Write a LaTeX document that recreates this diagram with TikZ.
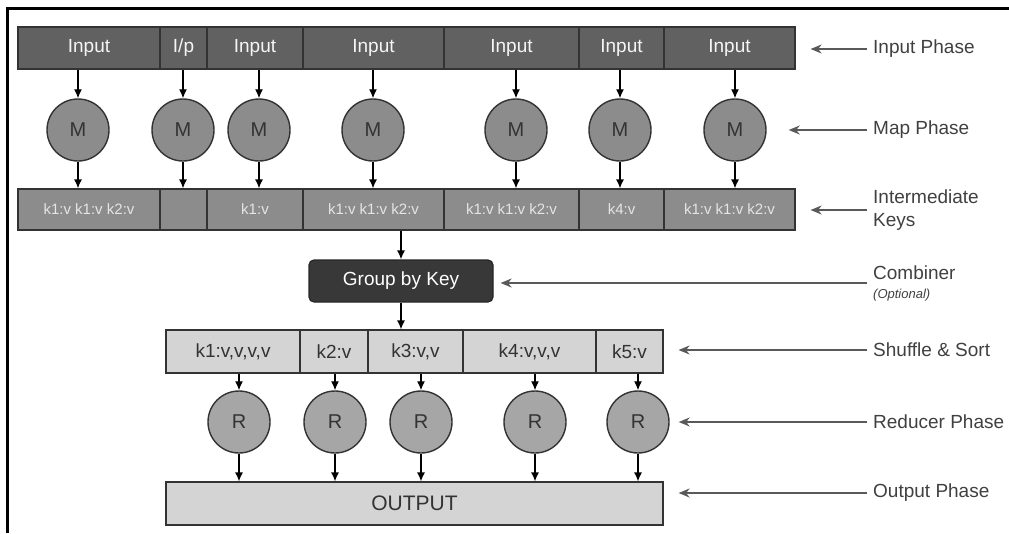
\documentclass[tikz,border=0pt]{standalone}
\usepackage{fontspec}
\setmainfont{Liberation Sans}
\usetikzlibrary{arrows.meta}
\begin{document}
\begin{tikzpicture}[x=1pt, y=-1pt,
  inbox/.style={draw=black!80, line width=1.2pt, fill=black!62, text=black!4,
    minimum height=42pt, inner sep=0pt, font=\fontsize{19}{19}\selectfont},
  keybox/.style={draw=black!80, line width=1.2pt, fill=black!45, text=black!10,
    minimum height=41pt, inner sep=0pt, font=\fontsize{15}{15}\selectfont},
  sortbox/.style={draw=black!80, line width=1.2pt, fill=black!17, text=black!80,
    minimum height=43pt, inner sep=0pt, font=\fontsize{19}{19}\selectfont},
  mapper/.style={circle, draw=black!80, line width=1.4pt, fill=black!45, text=black!80,
    minimum size=62pt, inner sep=0pt, font=\fontsize{20}{20}\selectfont},
  reducer/.style={mapper, fill=black!35},
  arr/.style={draw, -{Latex[length=9pt,width=8pt]}, line width=1.3pt},
  phasearr/.style={draw=black!65, -{Stealth[length=11pt,width=9pt]}, line width=1.7pt, shorten <=3pt},
  phase/.style={anchor=west, inner sep=3pt, text=black!75, align=left,
    font=\fontsize{19}{23}\selectfont}]
  \useasboundingbox (0,0) rectangle (1009,533);
  \draw[line width=3pt] (7,533) -- (7,8) -- (1009,8);

  % input phase
  \node[inbox, minimum width=142pt] (in1) at (89,48) {Input};
  \node[inbox, minimum width=47pt] (in2) at (183.5,48) {I/p};
  \node[inbox, minimum width=96pt] (in3) at (255,48) {Input};
  \node[inbox, minimum width=141pt] (in4) at (373.5,48) {Input};
  \node[inbox, minimum width=135pt] (in5) at (511.5,48) {Input};
  \node[inbox, minimum width=85pt] (in6) at (621.5,48) {Input};
  \node[inbox, minimum width=131pt] (in7) at (729.5,48) {Input};

  % map phase
  \node[mapper] (map1) at (78,130) {M};
  \node[mapper] (map2) at (183,130) {M};
  \node[mapper] (map3) at (259,130) {M};
  \node[mapper] (map4) at (373,130) {M};
  \node[mapper] (map5) at (516,130) {M};
  \node[mapper] (map6) at (620,130) {M};
  \node[mapper] (map7) at (735,130) {M};

  % intermediate keys
  \node[keybox, minimum width=142pt] (key1) at (89,209.5) {k1:v k1:v k2:v};
  \node[keybox, minimum width=47pt] (key2) at (183.5,209.5) {};
  \node[keybox, minimum width=96pt] (key3) at (255,209.5) {k1:v};
  \node[keybox, minimum width=141pt] (key4) at (373.5,209.5) {k1:v k1:v k2:v};
  \node[keybox, minimum width=135pt] (key5) at (511.5,209.5) {k1:v k1:v k2:v};
  \node[keybox, minimum width=85pt] (key6) at (621.5,209.5) {k4:v};
  \node[keybox, minimum width=131pt] (key7) at (729.5,209.5) {k1:v k1:v k2:v};

  \draw[arr] (map1 |- in1.south) -- (map1.north);
  \draw[arr] (map2 |- in2.south) -- (map2.north);
  \draw[arr] (map3 |- in3.south) -- (map3.north);
  \draw[arr] (map4 |- in4.south) -- (map4.north);
  \draw[arr] (map5 |- in5.south) -- (map5.north);
  \draw[arr] (map6 |- in6.south) -- (map6.north);
  \draw[arr] (map7 |- in7.south) -- (map7.north);
  \draw[arr] (map1.south) -- (map1 |- key1.north);
  \draw[arr] (map2.south) -- (map2 |- key2.north);
  \draw[arr] (map3.south) -- (map3 |- key3.north);
  \draw[arr] (map4.south) -- (map4 |- key4.north);
  \draw[arr] (map5.south) -- (map5 |- key5.north);
  \draw[arr] (map6.south) -- (map6 |- key6.north);
  \draw[arr] (map7.south) -- (map7 |- key7.north);

  % combiner
  \node[draw=black!85, line width=1.2pt, fill=black!78, text=white, rounded corners=5pt,
    minimum width=184pt, minimum height=42pt, inner sep=0pt,
    font=\fontsize{19}{19}\selectfont] (grp) at (401,281) {Group by Key};
  \draw[arr] (grp |- key4.south) -- (grp.north);

  % shuffle and sort
  \node[sortbox, minimum width=134pt] (srt1) at (233,351.5) {k1:v,v,v,v};
  \node[sortbox, minimum width=68pt] (srt2) at (334,351.5) {k2:v};
  \node[sortbox, minimum width=95pt] (srt3) at (415.5,351.5) {k3:v,v};
  \node[sortbox, minimum width=133pt] (srt4) at (529.5,351.5) {k4:v,v,v};
  \node[sortbox, minimum width=67pt] (srt5) at (629.5,351.5) {k5:v};
  \draw[arr] (grp.south) -- (grp |- srt3.north);

  % reducer phase
  \node[reducer] (red1) at (239,422) {R};
  \node[reducer] (red2) at (335,422) {R};
  \node[reducer] (red3) at (421,422) {R};
  \node[reducer] (red4) at (535,422) {R};
  \node[reducer] (red5) at (638,422) {R};
  \node[sortbox, minimum width=497pt, font=\fontsize{21}{21}\selectfont] (out) at (414.5,503.5) {OUTPUT};

  \draw[arr] (red1 |- srt1.south) -- (red1.north);
  \draw[arr] (red2 |- srt2.south) -- (red2.north);
  \draw[arr] (red3 |- srt3.south) -- (red3.north);
  \draw[arr] (red4 |- srt4.south) -- (red4.north);
  \draw[arr] (red5 |- srt5.south) -- (red5.north);
  \draw[arr] (red1.south) -- (red1 |- out.north);
  \draw[arr] (red2.south) -- (red2 |- out.north);
  \draw[arr] (red3.south) -- (red3 |- out.north);
  \draw[arr] (red4.south) -- (red4 |- out.north);
  \draw[arr] (red5.south) -- (red5 |- out.north);

  % phase labels
  \node[phase] (lin) at (870,49) {Input Phase};
  \node[phase] (lmap) at (870,130) {Map Phase};
  \node[phase] (lkey) at (870,210) {Intermediate\\Keys};
  \node[phase] (lcomb) at (870,283) {Combiner\\[-4pt]{\fontsize{13}{13}\selectfont\itshape (Optional)}};
  \node[phase] (lsrt) at (870,350) {Shuffle \& Sort};
  \node[phase] (lred) at (870,422) {Reducer Phase};
  \node[phase] (lout) at (870,493) {Output Phase};

  \draw[phasearr, shorten >=15pt] (lin.west) -- (lin.west -| in7.east);
  \draw[phasearr, shorten >=22pt] (lmap.west) -- (lmap.west -| map7.east);
  \draw[phasearr, shorten >=15pt] (lkey.west) -- (lkey.west -| key7.east);
  \draw[phasearr, shorten >=7pt] (lcomb.west) -- (lcomb.west -| grp.east);
  \draw[phasearr, shorten >=15pt] (lsrt.west) -- (lsrt.west -| srt5.east);
  \draw[phasearr, shorten >=9pt] (lred.west) -- (lred.west -| red5.east);
  \draw[phasearr, shorten >=15pt] (lout.west) -- (lout.west -| out.east);
\end{tikzpicture}
\end{document}
